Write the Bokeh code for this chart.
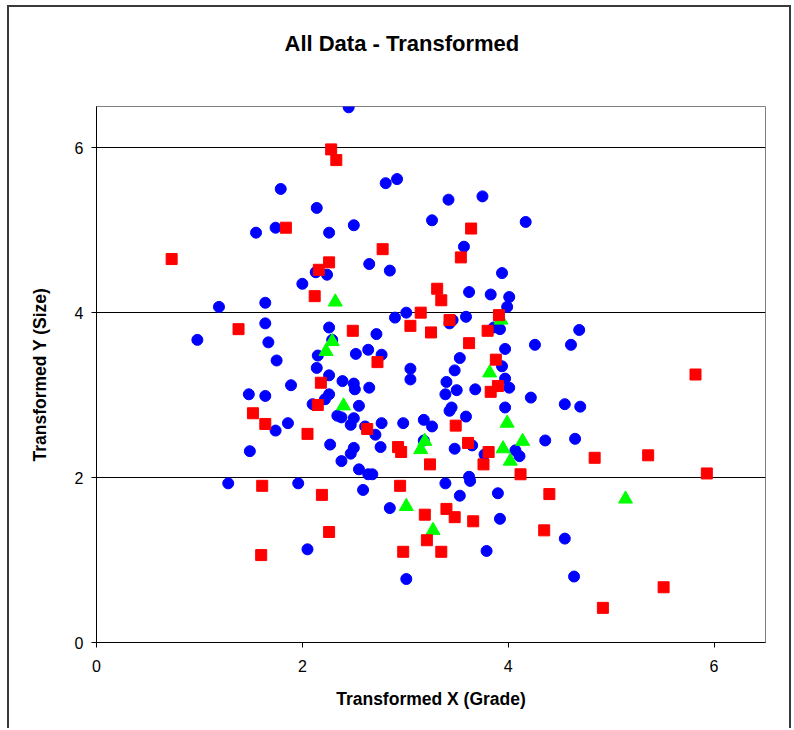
from bokeh.plotting import figure
from bokeh.models import Range1d, FixedTicker, Title
from bokeh.embed import file_html
from bokeh.resources import INLINE

# ---- data ----
blue_x = [1.79, 2.14, 1.74, 1.55, 2.13, 2.00, 2.45, 2.81, 2.92, 3.42, 3.75, 2.26, 2.50, 3.26, 4.17,
          3.57, 2.24, 2.65, 2.85, 3.94, 3.62, 3.83, 1.64, 1.19, 1.64, 0.98, 1.67, 1.75, 2.15, 2.14,
          1.89, 1.48, 1.64, 2.10, 1.86, 1.74, 1.49, 4.01, 3.99, 2.90, 3.01, 3.46, 3.43, 3.59, 3.86,
          3.92, 2.26, 2.72, 2.29, 2.52, 2.64, 2.77, 4.26, 3.97, 3.53, 3.94, 3.48, 3.97, 4.01, 3.05,
          3.05, 3.40, 3.50, 3.68, 3.39, 4.22, 2.26, 2.39, 2.50, 2.51, 2.65, 2.26, 2.22, 2.55, 2.34,
          2.38, 2.50, 2.47, 3.45, 3.43, 3.59, 3.97, 2.77, 2.98, 3.18, 3.26, 2.61, 2.71, 2.27, 2.50,
          2.47, 2.76, 3.18, 3.48, 3.65, 3.77, 4.07, 4.11, 2.38, 2.55, 2.64, 2.68, 4.69, 4.61, 4.55,
          4.70, 4.36, 4.65, 1.28, 1.96, 2.05, 3.62, 3.63, 2.59, 3.39, 3.53, 3.90, 2.85, 3.92, 3.79,
          3.01, 4.55, 4.64]
blue_y = [5.50, 5.27, 5.03, 4.97, 4.49, 4.35, 6.49, 5.57, 5.62, 5.37, 5.41, 4.97, 5.06, 5.12, 5.10,
          4.80, 4.46, 4.59, 4.51, 4.48, 4.25, 4.22, 4.12, 4.07, 3.87, 3.67, 3.64, 3.42, 3.48, 3.33,
          3.12, 3.01, 2.99, 2.89, 2.66, 2.57, 2.32, 4.19, 4.07, 3.94, 4.00, 3.91, 3.87, 3.95, 3.82,
          3.80, 3.82, 3.74, 3.67, 3.50, 3.55, 3.49, 3.61, 3.56, 3.45, 3.35, 3.30, 3.20, 3.09, 3.32,
          3.19, 3.16, 3.06, 3.07, 3.01, 2.97, 3.24, 3.17, 3.14, 3.07, 3.09, 3.01, 2.95, 2.87, 2.75,
          2.73, 2.72, 2.64, 2.85, 2.81, 2.74, 2.85, 2.66, 2.66, 2.70, 2.62, 2.62, 2.52, 2.40, 2.36,
          2.29, 2.37, 2.45, 2.35, 2.39, 2.28, 2.33, 2.26, 2.20, 2.10, 2.04, 2.04, 3.79, 3.61, 2.89,
          2.86, 2.45, 2.47, 1.93, 1.93, 1.13, 2.01, 1.96, 1.85, 1.93, 1.78, 1.81, 1.63, 1.50, 1.11,
          0.77, 1.26, 0.80]

red_x = [1.84, 0.73, 2.16, 2.28, 2.33, 3.64, 2.78, 3.54, 2.26, 3.31, 2.12, 1.38, 2.18, 2.15, 1.52,
         1.64, 2.05, 3.35, 3.15, 3.05, 3.43, 3.91, 3.80, 2.49, 3.25, 2.73, 3.62, 3.88, 3.90, 3.83,
         3.49, 2.63, 2.93, 2.96, 3.61, 3.81, 3.24, 3.76, 4.12, 5.82, 4.84, 5.36, 5.93, 1.61, 2.19,
         1.60, 2.95, 3.19, 3.40, 3.48, 3.66, 2.26, 3.21, 2.98, 3.35, 4.40, 4.35, 5.51, 4.92]
red_y = [5.03, 4.65, 4.52, 5.98, 5.85, 5.02, 4.77, 4.67, 4.61, 4.29, 4.20, 3.80, 3.15, 2.88, 2.78,
         2.65, 2.53, 4.15, 4.00, 3.84, 3.91, 3.97, 3.78, 3.78, 3.76, 3.40, 3.63, 3.43, 3.11, 3.04,
         2.63, 2.59, 2.37, 2.31, 2.42, 2.31, 2.16, 2.16, 2.04, 3.25, 2.24, 2.27, 2.05, 1.90, 1.79,
         1.06, 1.90, 1.55, 1.62, 1.52, 1.47, 1.34, 1.24, 1.10, 1.10, 1.80, 1.36, 0.67, 0.42]

green_x = [2.32, 3.93, 2.29, 2.23, 3.82, 2.40, 3.99, 3.19, 3.15, 3.95, 4.14, 4.02, 3.01, 3.27, 5.14]
green_y = [4.13, 3.91, 3.65, 3.53, 3.27, 2.87, 2.66, 2.44, 2.34, 2.35, 2.44, 2.20, 1.65, 1.36, 1.74]

x_ticks = [0, 2, 4, 6]
y_ticks = [0, 2, 4, 6]
title_text = "All Data - Transformed"

FONT = "Liberation Sans"

p = figure(frame_width=669, frame_height=536,
           min_border_left=87, min_border_right=24, min_border_top=99, min_border_bottom=86,
           x_range=Range1d(0, 6.5), y_range=Range1d(0, 6.5),
           output_backend="svg", toolbar_location=None, title=None)

p.styles = {"border-top": "2px solid #3a3a3a", "border-left": "2px solid #3a3a3a",
            "border-right": "2px solid #3a3a3a", "margin-left": "7px", "margin-top": "5px"}

# empty spacer panel between the frame and the title
p.add_layout(Title(text=" ", text_font=FONT, text_font_size="22px", standoff=24), "above")
p.add_layout(Title(text=title_text, text_font=FONT, text_font_size="22px",
                   text_font_style="bold", text_color="black", align="left", offset=188,
                   standoff=0), "above")

p.background_fill_color = "white"
p.border_fill_color = "white"
p.outline_line_color = "#808080"
p.outline_line_width = 1

# grid: horizontal only
p.xgrid.grid_line_color = None
p.ygrid.grid_line_color = "black"
p.ygrid.grid_line_width = 1
p.ygrid.ticker = FixedTicker(ticks=y_ticks)

for ax in (p.xaxis[0], p.yaxis[0]):
    ax.axis_line_color = "black"
    ax.axis_line_width = 1
    ax.major_tick_line_color = "black"
    ax.major_tick_in = 0
    ax.major_tick_out = 5
    ax.minor_tick_line_color = None
    ax.major_label_text_font = FONT
    ax.major_label_text_font_size = "16px"
    ax.major_label_text_color = "black"
    ax.axis_label_text_font = FONT
    ax.axis_label_text_font_size = "17.5px"
    ax.axis_label_text_font_style = "bold"
    ax.axis_label_text_color = "black"

p.xaxis[0].ticker = FixedTicker(ticks=x_ticks)
p.yaxis[0].ticker = FixedTicker(ticks=y_ticks)
p.xaxis[0].axis_label = "Transformed X (Grade)"
p.yaxis[0].axis_label = "Transformed Y (Size)"
p.xaxis[0].major_label_standoff = 12
p.yaxis[0].major_label_standoff = 8
p.xaxis[0].axis_label_standoff = 14
p.yaxis[0].axis_label_standoff = 22

p.scatter(blue_x, blue_y, marker="circle", size=11, fill_color="#0000FF", line_color="#0000FF")
p.scatter(green_x, green_y, marker="triangle", size=14, fill_color="#00FF00", line_color="#00FF00")
p.scatter(red_x, red_y, marker="square", size=11, fill_color="#FF0000", line_color="#FF0000")

open("out.html", "w").write(file_html(p, INLINE))
